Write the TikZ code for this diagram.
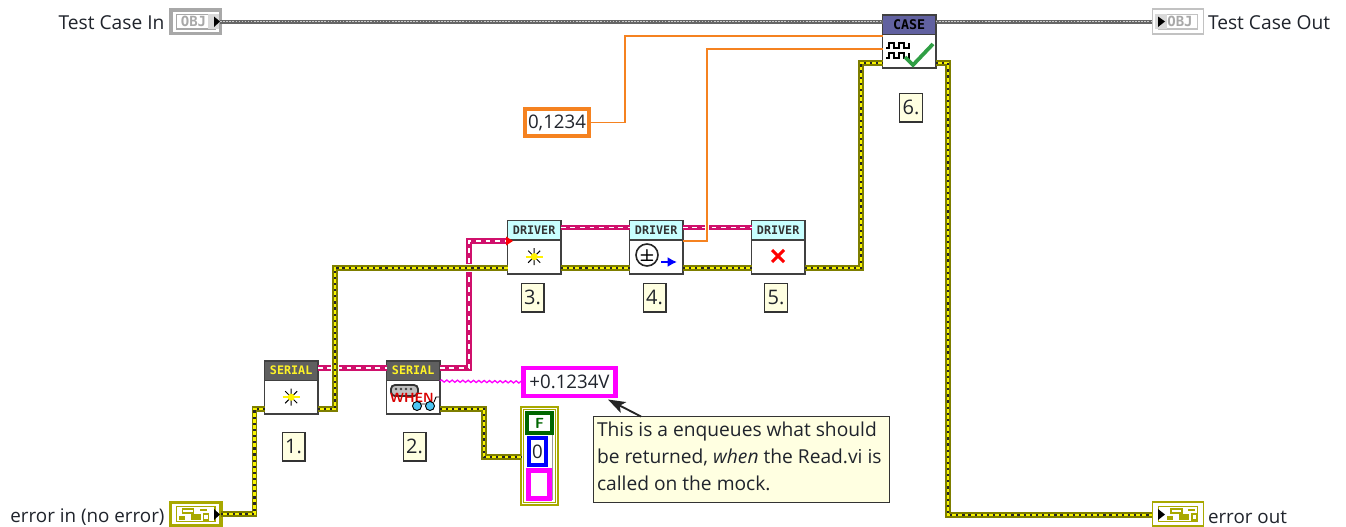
\documentclass[tikz,border=0pt]{standalone}
\usepackage{fontspec}
\setmainfont{Open Sans}
\newfontfamily\icofont{DejaVu Sans Mono}
\usetikzlibrary{arrows.meta,calc,decorations.pathmorphing}
\definecolor{errol}{HTML}{A8A800}
\definecolor{errye}{HTML}{F8F400}
\definecolor{chain}{HTML}{D0106C}
\definecolor{mag}{HTML}{FF00FF}
\definecolor{orng}{HTML}{F58220}
\definecolor{note}{HTML}{FFFFE1}
\definecolor{hdgrey}{HTML}{5F5F5F}
\definecolor{hdblue}{HTML}{6161A0}
\definecolor{hdcyan}{HTML}{C8FFFF}
\definecolor{ink}{HTML}{20242C}
\definecolor{objgrey}{HTML}{A8A8A8}
\definecolor{okgreen}{HTML}{2F9E44}
\tikzset{
  x=0.75pt,y=-0.75pt,
  every node/.style={inner sep=0,outer sep=0,text=ink},
  vi/.style={draw=black!75,line width=1.4pt,fill=white,minimum width=40pt,minimum height=40pt,anchor=north west},
  vihead/.style={draw=black!75,line width=1.2pt,minimum width=40pt,minimum height=14.5pt,anchor=north west,font=\icofont\bfseries\fontsize{8.8}{9}\selectfont},
  numlab/.style={draw=black!80,line width=1pt,fill=note,minimum width=17pt,minimum height=21.5pt,font=\fontsize{15}{18}\selectfont,anchor=center},
  lab/.style={font=\fontsize{14.4}{18}\selectfont},
  errw/.style={draw=black!25!errol,line width=3.8pt,line join=miter,
     postaction={draw=errye,line width=2.2pt},
     postaction={draw=black!85,line width=1.7pt,dash pattern=on 1.7pt off 2.9pt}},
  chainw/.style={draw=chain,line width=4pt,line join=miter,
     postaction={draw=white,line width=1.3pt,dash pattern=on 3.6pt off 3.6pt}},
  clsw/.style={draw=black!60,line width=3pt,
     postaction={draw=white!80!black,line width=1.1pt,dash pattern=on 1.2pt off 1.1pt}},
  orw/.style={draw=orng,line width=1.3pt,line join=miter},
  gapw/.style={white,line width=6.5pt},
  termo/.style={draw=objgrey,line width=2.5pt,fill=white,minimum width=38pt,minimum height=18pt},
  terme/.style={draw=errol,line width=2.5pt,fill=white,minimum width=38pt,minimum height=17pt},
}
\begin{document}
\begin{tikzpicture}
\useasboundingbox (0,0) rectangle (1346,526);
\fill[white] (0,0) rectangle (1346,526);

% --- terminals
\node[termo,minimum width=37pt,minimum height=17.5pt] (tin) at (195.5,21.5) {};
\node[draw=objgrey,line width=1pt,minimum width=29pt,minimum height=11pt] (tinb) at (tin) {};
\fill[black!15] (208,14) rectangle (219,29);
\node[font=\icofont\bfseries\fontsize{10.5}{10}\selectfont,text=objgrey,xshift=-1.5pt] (tinl) at (tin) {OBJ};
\node[draw=objgrey!70,line width=1.1pt,fill=white,minimum width=38.5pt,minimum height=19pt] (tout) at (1178,21.5) {};
\node[draw=objgrey!70,line width=1pt,minimum width=29pt,minimum height=11pt] (toutb) at (tout) {};
\fill[black!15] (1155,14) rectangle (1167,29);
\node[font=\icofont\bfseries\fontsize{10.5}{10}\selectfont,text=objgrey,xshift=1.5pt] (toutl) at (tout) {OBJ};
\node[terme] (ein) at (195.5,514) {};
\node[draw=errol,line width=1pt,minimum width=29pt,minimum height=11pt] (einb) at (ein) {};
\node[draw=errol,line width=1.1pt,fill=white,minimum width=38.5pt,minimum height=18pt] (eout) at (1178,514) {};
\node[draw=errol,line width=1pt,minimum width=29pt,minimum height=11pt] (eoutb) at (eout) {};
\foreach \t/\s in {ein/-1,eout/1}{
  \draw[errol,line width=.9pt] ($(\t)+(\s*3-10,-5)$) rectangle +(11,4);
  \fill[errol] ($(\t)+(\s*3+7,-5)$) rectangle +(7,2);
  \fill[errol] ($(\t)+(\s*3-14,2)$) rectangle +(6,4);
  \fill[errol] ($(\t)+(\s*3-2,0)$) rectangle +(10,6);
  \draw[errol,line width=.9pt] ($(\t)+(\s*3+11,0)$) rectangle +(5,6);
}
\fill[black] (214,16.5) -- (220,21.5) -- (214,27) -- cycle;
\fill[black] (1158,16.5) -- (1165,21.5) -- (1158,27) -- cycle;
\fill[black] (214,509) -- (220,514.5) -- (214,520) -- cycle;
\fill[black] (1158,509) -- (1165,514.5) -- (1158,520) -- cycle;

% --- texts
\node[lab,anchor=east] (tinT) at (164.5,22.5) {Test Case In};
\node[lab,anchor=west] (toutT) at (1208,22.5) {Test Case Out};
\node[lab,anchor=east,font=\fontsize{14.1}{18}\selectfont] (einT) at (164.5,517) {error in (no error)};
\node[lab,anchor=west,font=\fontsize{14.1}{18}\selectfont] (eoutT) at (1208,517) {error out};

% --- VIs
\node[vi] (s1) at (264.5,361) {};
\node[vihead,fill=hdgrey,text=yellow!85!white] (h1) at (264.5,361) {SERIAL};
\node[vi] (s2) at (386.5,361) {};
\node[vihead,fill=hdgrey,text=yellow!85!white] (h2) at (386.5,361) {SERIAL};
\node[vi] (d3) at (507.5,220.5) {};
\node[vihead,fill=hdcyan,text=black!80] (h3) at (507.5,220.5) {DRIVER};
\node[vi] (d4) at (629.5,220.5) {};
\node[vihead,fill=hdcyan,text=black!80] (h4) at (629.5,220.5) {DRIVER};
\node[vi] (d5) at (751.5,220.5) {};
\node[vihead,fill=hdcyan,text=black!80] (h5) at (751.5,220.5) {DRIVER};
\node[vi] (c6) at (882.5,15) {};
\node[vihead,fill=hdblue,text=black,font=\icofont\bfseries\fontsize{10}{10}\selectfont] (h6) at (882.5,15) {CASE};

% --- labels
\node[numlab] (n1) at (293.5,446.5) {1.};
\node[numlab] (n2) at (414.5,446.5) {2.};
\node[numlab] (n3) at (532.5,297.5) {3.};
\node[numlab] (n4) at (654.5,297.5) {4.};
\node[numlab] (n5) at (776,297.5) {5.};
\node[numlab] (n6) at (911,107.5) {6.};

% --- constant, indicator, cluster, comment
\node[draw=orng,line width=2.6pt,fill=white,minimum width=48pt,minimum height=20.5pt,font=\fontsize{14}{18}\selectfont] (cst) at (557,122.5) {0,1234};
\node[draw=mag,line width=3.6pt,fill=white,minimum width=69pt,minimum height=21pt,font=\fontsize{14}{18}\selectfont] (ind) at (569.5,382) {+0.1234V};
\node[draw=errol,line width=1.3pt,fill=white,minimum width=27.5pt,minimum height=73.5pt] (cl) at (539.5,456) {};
\node[draw=errol,line width=.7pt,minimum width=24pt,minimum height=70pt] (cl2) at (539.5,456) {};
\draw[black!40,line width=.7pt] (cl2.north east -| 552.8,0) ++(0,25) -- (552.8,500);
\node[draw=green!40!black,line width=3pt,fill=white,minimum width=18.75pt,minimum height=15pt,font=\sffamily\bfseries\fontsize{11}{12}\selectfont,text=green!40!black] (clf) at (539.5,423) {F};
\node[draw=blue,line width=3pt,fill=white,minimum width=12.75pt,minimum height=20.25pt,font=\fontsize{14}{18}\selectfont] (cl0) at (537.5,451.5) {0};
\node[draw=mag,line width=4pt,fill=white,minimum width=15.5pt,minimum height=20.75pt] (cls) at (539,484.5) {};
\node[draw=black!80,line width=1.1pt,fill=note,minimum width=222pt,minimum height=64.5pt,anchor=north west] (cm) at (593.5,416.5) {};
\node[anchor=west,font=\fontsize{14.4}{18}\selectfont] (cm1) at (597,432) {This is a enqueues what should};
\node[anchor=west,font=\fontsize{14.4}{18}\selectfont] (cm2) at (597,457.5) {be returned, \textit{when} the Read.vi is};
\node[anchor=west,font=\fontsize{14.4}{18}\selectfont] (cm3) at (597,483) {called on the mock.};
\coordinate (cmTip) at (608,399.5);
\draw[black!85,line width=1.4pt,-{Stealth[length=13pt,width=9pt,inset=3pt]}] (cm.north west -| 641,0) -- (cmTip);

% --- wires: class
\draw[clsw] (tin.east) -- (c6.west |- tin.east);
\draw[clsw] (c6.east |- tout.west) -- (tout.west);

% --- chain
\draw[chainw] (s1.east |- 0,368) -- (s2.west |- 0,368);
\draw[chainw] (s2.east |- 0,368) -| (469,241) -- (d3.west |- 0,241);
\draw[chainw] (d3.east |- 0,227.5) -- (d4.west |- 0,227.5);
\draw[chainw] (d4.east |- 0,227.5) -- (d5.west |- 0,227.5);
\fill[red] (506,236.5) -- (513,241) -- (506,245.5) -- cycle;

% --- error wires (they run on top of the chain, which is broken around them)
\draw[gapw] (335,361) -- (335,375);
\draw[gapw] (462,268) -- (476,268);
\draw[errw] (ein.east) -| (254.5,409) -- (s1.west |- 0,409);
\draw[errw] (s1.east |- 0,409) -| (335,268) -- (d3.west |- 0,268);
\draw[errw] (d3.east |- 0,268) -- (d4.west |- 0,268);
\draw[errw] (d4.east |- 0,268) -- (d5.west |- 0,268);
\draw[errw] (d5.east |- 0,268) -| (861,63) -- (c6.west |- 0,63);
\draw[errw] (c6.east |- 0,63) -| (948,515) -- (eout.west |- 0,515);
\draw[errw] (s2.east |- 0,409) -| (484,457) -- (cl.west |- 0,457);

% --- thin wires
\draw[mag,line width=1pt,decorate,decoration={snake,amplitude=.8pt,segment length=4pt}] (s2.east |- 0,381) -- (ind.west);
\draw[white,line width=3.5pt] (707,222) -- (707,233);
\draw[orw] (cst.east) -| (625,36) -- (c6.west |- 0,36);
\draw[orw] (d4.east |- 0,241) -| (707,49) -- (c6.west |- 0,49);

% --- icons
\foreach \c in {s1,d3}{
  \draw[black,line width=.7pt] ($(\c.center)+(0,1)$) -- +(0,17)
      ($(\c.center)+(-6,3.5)$) -- +(12,12) ($(\c.center)+(-6,15.5)$) -- +(12,-12);
  \fill[yellow] ($(\c.center)+(0,9.5)$) circle (3.6);
  \draw[yellow,line width=1.4pt] ($(\c.center)+(-8.5,9.5)$) -- +(17,0);
}
% 4: sign circle with arrow
\draw[black!85,line width=1.2pt] (647,255) circle (11);
\node[font=\sffamily\bfseries\fontsize{13}{13}\selectfont,text=black] (pm) at (647,255) {±};
\draw[blue,line width=1.6pt,-{Latex[length=7pt,width=7.5pt]}] (661,262) -- (677,262);
% 5: red cross
\draw[red,line width=2.3pt] (772,250) -- (784,262) (772,262) -- (784,250);
% 2: serial icon
\draw[black!80,line width=1.4pt,fill=black!25,rounded corners=3pt] (391,385) rectangle (418,396);
\foreach \px in {396,401,406,411}{\fill[black!75] (\px,389) circle (1.3);}
\node[font=\sffamily\bfseries\fontsize{10}{10}\selectfont,text=red!85!black] (wh) at (412,398) {WHEN};
\draw[black,line width=.7pt,fill=cyan!70] (417,406) circle (4.5) (430,406) circle (4.5);
\draw[black,line width=.7pt] (421,404) -- (426,404) (434,402) -- (436,397) -- (439,397);
% 6: square waves and check
\foreach \yy in {43,53}{
  \draw[black,line width=1.1pt] (886,\yy+5) -- (889,\yy+5) -- (889,\yy) -- (894,\yy) -- (894,\yy+5) -- (899,\yy+5) -- (899,\yy) -- (904,\yy) -- (904,\yy+5) -- (909,\yy+5) -- (909,\yy);
}
\draw[okgreen,line width=2.8pt] (905,57) -- (913,65) -- (933,44);
\end{tikzpicture}
\end{document}
